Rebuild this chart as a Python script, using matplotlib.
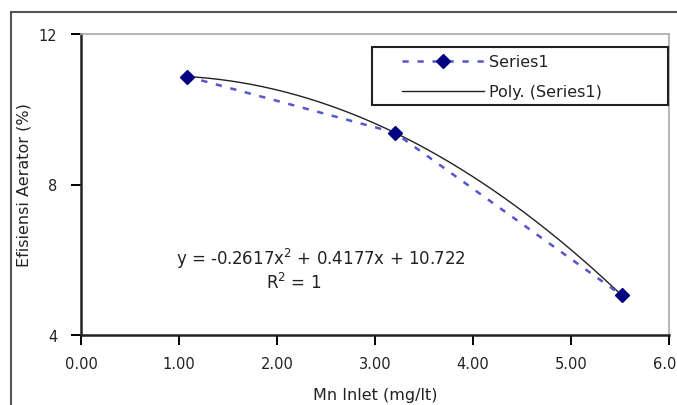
import matplotlib

matplotlib.use('agg')

from matplotlib import pyplot as plt
from matplotlib.patches import Rectangle
import numpy as np

plt.rcParams['font.family'] = ['DejaVu Sans']

mn_inlet = [1.08, 3.20, 5.52]
efisiensi = [10.87, 9.38, 5.05]
x_ticks = [0, 1, 2, 3, 4, 5, 6]
y_ticks = [4, 8, 12]

W, H = 677, 406
fig = plt.figure(figsize=(W / 100, H / 100), dpi=100)
ax = fig.add_axes([81 / W, 1 - 336 / H, 588 / W, 301 / H])

# outer chart frame
fig.patches.append(Rectangle((11 / W, -0.01), 1.0, 1 - 13 / H + 0.01,
                             transform=fig.transFigure, fill=False,
                             edgecolor='#555555', linewidth=1.5))

coef = np.polyfit(mn_inlet, efisiensi, 2)
fit_x = np.linspace(mn_inlet[0], mn_inlet[-1], 200)
fit_y = np.polyval(coef, fit_x)

ax.plot(mn_inlet, efisiensi, color='#5555cc', linestyle=(0, (2.5, 3.5)),
        linewidth=1.8, marker='D', markersize=7.5, markerfacecolor='#000080',
        markeredgecolor='#000080', label='Series1', zorder=3)
ax.plot(fit_x, fit_y, color='#222222', linewidth=1.0,
        label='Poly. (Series1)', zorder=2)

ax.set_xlim(0, 6)
ax.set_ylim(4, 12)
ax.set_xticks(x_ticks)
ax.set_xticklabels(['%.2f' % v for v in x_ticks])
ax.set_yticks(y_ticks)
ax.tick_params(direction='out', length=7, width=1.4, labelsize=10.5,
               labelcolor='#222222')
ax.tick_params(axis='y', pad=10)
ax.tick_params(axis='x', pad=8)

for side in ['top', 'right']:
    ax.spines[side].set_color('#aaaaaa')
    ax.spines[side].set_linewidth(1.2)
for side in ['left', 'bottom']:
    ax.spines[side].set_linewidth(1.8)
    ax.spines[side].set_color('#222222')

ax.set_xlabel('Mn Inlet (mg/lt)', fontsize=11.5, labelpad=12, color='#222222')
ax.set_ylabel('Efisiensi Aerator (%)', fontsize=11.5, labelpad=5,
              color='#222222')

ax.text(2.45, 6.05, 'y = -0.2617x$^2$ + 0.4177x + 10.722', fontsize=12,
        ha='center', va='center', color='#222222')
ax.text(2.17, 5.42, 'R$^2$ = 1', fontsize=12, ha='center', va='center',
        color='#222222')

# legend box drawn separately, entries placed inside it
fig.patches.append(Rectangle((372 / W, 1 - 106 / H), 296 / W, 58 / H,
                             transform=fig.transFigure, fill=True,
                             facecolor='white', edgecolor='#222222',
                             linewidth=1.5, zorder=4))
leg = fig.legend(loc='upper left', bbox_to_anchor=(399 / W, 1 - 52 / H),
                 frameon=False, fontsize=11.5, handlelength=5.1,
                 handletextpad=0.35, borderpad=0.2, labelspacing=0.95,
                 borderaxespad=0)
leg.set_zorder(5)
for t in leg.get_texts():
    t.set_color('#222222')

plt.savefig('out.png')
